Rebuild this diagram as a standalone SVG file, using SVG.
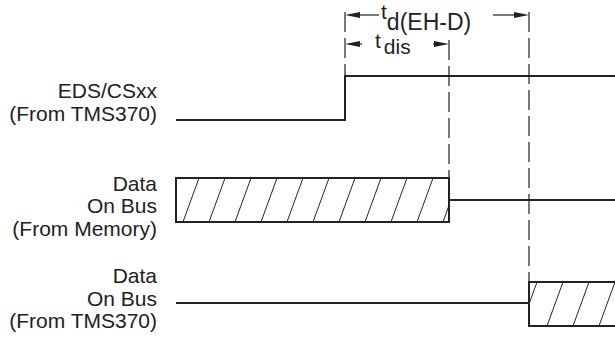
<svg xmlns="http://www.w3.org/2000/svg" width="615" height="337" viewBox="0 0 615 337">
<style>
.lbl{font-family:"Liberation Sans",Arial,sans-serif;font-size:21px;fill:#222;text-anchor:end}
.sym{font-family:"Liberation Sans",Arial,sans-serif;font-size:21px;fill:#222}
.sig{fill:none;stroke:#222;stroke-width:2}
.dash{fill:none;stroke:#222;stroke-width:1.2;stroke-dasharray:20 6}
.hat{stroke:#222;stroke-width:1}
.arr{stroke:#222;stroke-width:1.2;fill:none}
.head{fill:#222}
</style>
<defs>
<clipPath id="c1"><rect x="176" y="178" width="273" height="44"/></clipPath>
<clipPath id="c3"><rect x="529" y="282" width="86" height="44"/></clipPath>
</defs>
<g id="connectors">
<line class="dash" x1="345" y1="12" x2="345" y2="76"/>
<line class="dash" x1="449" y1="40" x2="449" y2="178"/>
<line class="dash" x1="529" y1="12" x2="529" y2="282"/>
<line class="arr" x1="350" y1="15" x2="379" y2="15"/>
<polygon class="head" points="345,15 360,12 360,18"/>
<line class="arr" x1="493" y1="15" x2="524" y2="15"/>
<polygon class="head" points="529,15 514,12 514,18"/>
<line class="arr" x1="350" y1="44" x2="362" y2="44"/>
<polygon class="head" points="345,44 360,41 360,47"/>
<line class="arr" x1="433" y1="44" x2="444" y2="44"/>
<polygon class="head" points="449,44 434,41 434,47"/>
</g>
<g id="timing-labels">
<text class="sym" x="381" y="19">t<tspan font-size="23" dy="11">d(EH-D)</tspan></text>
<text class="sym" x="375" y="48">t<tspan dx="3" dy="6">dis</tspan></text>
</g>
<g id="eds">
<text class="lbl" x="157" y="98">EDS/CSxx</text>
<text class="lbl" x="157" y="121">(From TMS370)</text>
<path class="sig" d="M176,120 H345 V76 H615"/>
</g>
<g id="data-memory">
<text class="lbl" x="157" y="191">Data</text>
<text class="lbl" x="157" y="213">On Bus</text>
<text class="lbl" x="157" y="236">(From Memory)</text>
<g clip-path="url(#c1)">
<path class="hat" d="M157,222 l16,-44 M183,222 l16,-44 M209,222 l16,-44 M235,222 l16,-44 M261,222 l16,-44 M287,222 l16,-44 M313,222 l16,-44 M339,222 l16,-44 M365,222 l16,-44 M391,222 l16,-44 M417,222 l16,-44 M443,222 l16,-44"/>
</g>
<rect class="sig" x="176" y="178" width="273" height="44"/>
<line class="sig" x1="449" y1="200" x2="615" y2="200"/>
</g>
<g id="data-tms">
<text class="lbl" x="157" y="283">Data</text>
<text class="lbl" x="157" y="306">On Bus</text>
<text class="lbl" x="157" y="328">(From TMS370)</text>
<line class="sig" x1="176" y1="303" x2="529" y2="303"/>
<g clip-path="url(#c3)">
<path class="hat" d="M521,326 l16,-44 M547,326 l16,-44 M573,326 l16,-44 M599,326 l16,-44"/>
</g>
<path class="sig" d="M620,282 H529 V326 H620"/>
</g>
</svg>
